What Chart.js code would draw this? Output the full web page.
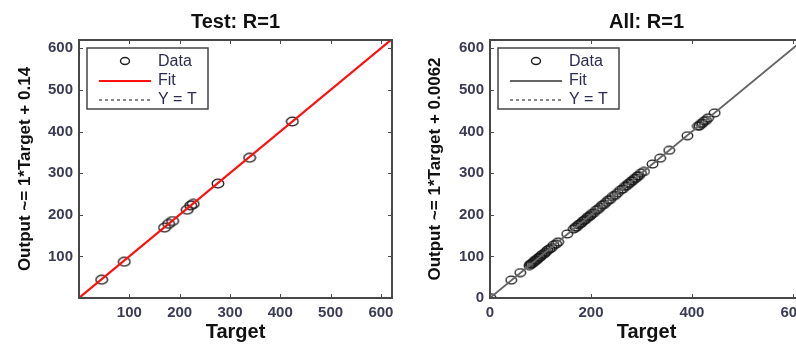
<!DOCTYPE html>
<html>
<head>
<meta charset="utf-8">
<script src="https://cdn.jsdelivr.net/npm/chart.js@4.4.1/dist/chart.umd.min.js"></script>
<style>
  html, body { margin: 0; padding: 0; background: #fff; width: 796px; height: 344px; overflow: hidden; }
  .panel { position: absolute; top: 0; height: 344px; }
  #testPanel { left: 0; width: 400px; }
  #allPanel { left: 400px; width: 412px; }
</style>
</head>
<body>
<div class="panel" id="testPanel"><canvas id="testChart" width="400" height="344"></canvas></div>
<div class="panel" id="allPanel"><canvas id="allChart" width="412" height="344"></canvas></div>
<script>
// ---------- data ----------
const testTarget = [45, 90, 170, 178, 186, 215, 222, 227, 276, 339, 424];
const testOutput = [44, 87, 169, 178, 185, 212, 222, 226, 275, 337, 424];

const allTarget = [1, 42, 60, 78, 80, 82, 85, 87, 89, 91, 93, 95, 98, 100, 102, 105, 108, 111, 114, 118,
  122, 126, 131, 135, 153, 166, 169, 172, 175, 178, 181, 184, 187, 190, 193, 196, 199, 202, 206, 210,
  214, 218, 222, 226, 230, 234, 238, 243, 248, 253, 258, 263, 267, 271, 274, 277, 280, 283, 286, 289,
  292, 295, 299, 305, 322, 337, 355, 391, 412, 415, 418, 421, 424, 428, 432, 445];
const allOutput = [1, 43, 61, 78, 81, 82, 84, 87, 90, 91, 92, 96, 98, 99, 103, 105, 107, 111, 115, 118,
  121, 127, 130, 135, 154, 166, 170, 171, 176, 178, 180, 185, 187, 189, 194, 196, 198, 203, 205, 211,
  213, 218, 223, 225, 230, 235, 237, 244, 247, 253, 259, 262, 268, 270, 275, 276, 281, 282, 287, 288,
  293, 294, 300, 304, 322, 336, 355, 390, 413, 414, 419, 420, 425, 427, 433, 445];

// fit lines (Output ~= 1*Target + b) and identity line end points
const testFit = [[0, 0.14], [622, 622.14]];
const allFit = [[0, 0.0062], [620, 620.0062]];
const identityLine = [[0, 0], [622, 622]];

const testTicks = [100, 200, 300, 400, 500, 600];
const allXTicks = [0, 200, 400, 600];
const allYTicks = [0, 100, 200, 300, 400, 500, 600];

const legendLabels = ['Data', 'Fit', 'Y = T'];

// ---------- helpers ----------
const toPoints = (xs, ys) => xs.map((x, i) => ({x: x, y: ys[i]}));
const pairsToPoints = (pairs) => pairs.map(p => ({x: p[0], y: p[1]}));

function ellipseMarker(w, h) { // matlab 'o' markers look squashed in the picture
  const c = document.createElement('canvas');
  c.width = w; c.height = h;
  const g = c.getContext('2d');
  g.strokeStyle = '#1a1a1a';
  g.lineWidth = 1.3;
  g.beginPath();
  g.ellipse(w / 2, h / 2, w / 2 - 1.2, h / 2 - 1.2, 0, 0, Math.PI * 2);
  g.stroke();
  return c;
}

const tickColor = '#3b3b55';

// frame box, inward tick marks and the matlab style legend
const matlabFrame = {
  id: 'matlabFrame',
  afterDatasetsDraw(chart) {
    const {ctx, chartArea: a, scales} = chart;
    ctx.save();
    ctx.strokeStyle = '#4a4a4a';
    ctx.lineWidth = 1;
    scales.x.ticks.forEach(t => {
      const px = Math.round(scales.x.getPixelForValue(t.value)) + 0.5;
      ctx.beginPath();
      ctx.moveTo(px, a.bottom); ctx.lineTo(px, a.bottom - 4);
      ctx.moveTo(px, a.top); ctx.lineTo(px, a.top + 4);
      ctx.stroke();
    });
    scales.y.ticks.forEach(t => {
      const py = Math.round(scales.y.getPixelForValue(t.value)) + 0.5;
      ctx.beginPath();
      ctx.moveTo(a.left, py); ctx.lineTo(a.left + 4, py);
      ctx.moveTo(a.right, py); ctx.lineTo(a.right - 4, py);
      ctx.stroke();
    });
    ctx.lineWidth = 2;
    ctx.strokeStyle = '#484848';
    ctx.strokeRect(a.left, a.top, a.width, a.height);

    // legend box
    const bx = a.left + 8, by = a.top + 8, bw = 121, bh = 61;
    ctx.fillStyle = '#fff';
    ctx.fillRect(bx, by, bw, bh);
    ctx.lineWidth = 1.5;
    ctx.strokeStyle = '#444';
    ctx.strokeRect(bx, by, bw, bh);
    ctx.font = '16px "Liberation Sans", Arial, sans-serif';
    ctx.textBaseline = 'middle';
    const rows = [by + 14, by + 33, by + 52];
    chart.data.datasets.forEach((ds, i) => {
      const y = rows[i];
      if (ds.showLine === false) {
        ctx.strokeStyle = '#1e1e1e';
        ctx.lineWidth = 1.4;
        ctx.beginPath();
        ctx.ellipse(bx + 38, y - 1, 4.5, 3.5, 0, 0, Math.PI * 2);
        ctx.stroke();
      } else {
        ctx.strokeStyle = ds.borderColor;
        ctx.lineWidth = ds.borderWidth;
        ctx.setLineDash(ds.borderDash || []);
        ctx.beginPath();
        ctx.moveTo(bx + 12, y); ctx.lineTo(bx + 64, y);
        ctx.stroke();
        ctx.setLineDash([]);
      }
      ctx.fillStyle = '#2c2c50';
      ctx.fillText(legendLabels[i], bx + 71, y);
    });
    ctx.restore();
  }
};

function buildChart(canvasId, s) {
  return new Chart(document.getElementById(canvasId), {
    type: 'scatter',
    data: {
      datasets: [
        {
          label: legendLabels[0],
          data: s.points,
          showLine: false,
          pointStyle: s.marker,
          order: 2
        },
        {
          label: legendLabels[1],
          data: pairsToPoints(s.fit),
          showLine: true,
          pointRadius: 0,
          borderColor: s.fitColor,
          borderWidth: s.fitWidth,
          order: 0
        },
        {
          label: legendLabels[2],
          data: pairsToPoints(identityLine),
          showLine: true,
          pointRadius: 0,
          borderColor: '#111',
          borderWidth: 1,
          borderDash: [3, 3],
          order: 1
        }
      ]
    },
    options: {
      responsive: false,
      animation: false,
      events: [],
      layout: {padding: {left: 0, right: s.padRight, top: 0, bottom: 0}},
      plugins: {
        legend: {display: false},
        tooltip: {enabled: false},
        title: {
          display: true,
          text: s.title,
          fullSize: false,
          color: '#111',
          font: {family: '"Liberation Sans", Arial, sans-serif', size: 20, weight: 'bold'},
          padding: {top: 10, bottom: 6}
        }
      },
      scales: {
        x: {
          type: 'linear',
          min: s.xMin, max: s.xMax,
          grid: {display: false, drawTicks: false},
          border: {display: false},
          afterBuildTicks: (sc) => { sc.ticks = s.xTicks.map(v => ({value: v})); },
          afterFit: (sc) => { sc.height = 46; },
          ticks: {
            autoSkip: false, maxRotation: 0, padding: 6, color: tickColor,
            font: {family: '"Liberation Sans", Arial, sans-serif', size: 15, weight: 'bold'}
          },
          title: {
            display: true, text: 'Target', color: '#111',
            padding: {top: 0, bottom: 0},
            font: {family: '"Liberation Sans", Arial, sans-serif', size: 20, weight: 'bold'}
          }
        },
        y: {
          type: 'linear',
          min: s.yMin, max: s.yMax,
          grid: {display: false, drawTicks: false},
          border: {display: false},
          afterBuildTicks: (sc) => { sc.ticks = s.yTicks.map(v => ({value: v})); },
          afterFit: (sc) => { sc.width = s.yWidth; },
          ticks: {
            autoSkip: false, padding: 6, color: tickColor,
            font: {family: '"Liberation Sans", Arial, sans-serif', size: 15, weight: 'bold'}
          },
          title: {
            display: true, text: s.yTitle, color: '#111',
            padding: {top: s.yTitlePad, bottom: 0},
            font: {family: '"Liberation Sans", Arial, sans-serif', size: 17, weight: 'bold'}
          }
        }
      }
    },
    plugins: [matlabFrame]
  });
}

buildChart('testChart', {
  title: 'Test: R=1',
  yTitle: 'Output ~= 1*Target + 0.14',
  points: toPoints(testTarget, testOutput),
  fit: testFit,
  fitColor: '#ff1010',
  fitWidth: 2.2,
  marker: ellipseMarker(14, 11),
  xMin: 0, xMax: 622, yMin: 0, yMax: 620,
  xTicks: testTicks, yTicks: testTicks,
  yWidth: 79, yTitlePad: 15, padRight: 8
});

buildChart('allChart', {
  title: 'All: R=1',
  yTitle: 'Output ~= 1*Target + 0.0062',
  points: toPoints(allTarget, allOutput),
  fit: allFit,
  fitColor: '#666666',
  fitWidth: 1.8,
  marker: ellipseMarker(13, 10),
  xMin: 0, xMax: 620, yMin: 0, yMax: 620,
  xTicks: allXTicks, yTicks: allYTicks,
  yWidth: 90, yTitlePad: 25, padRight: 9
});
</script>
</body>
</html>
